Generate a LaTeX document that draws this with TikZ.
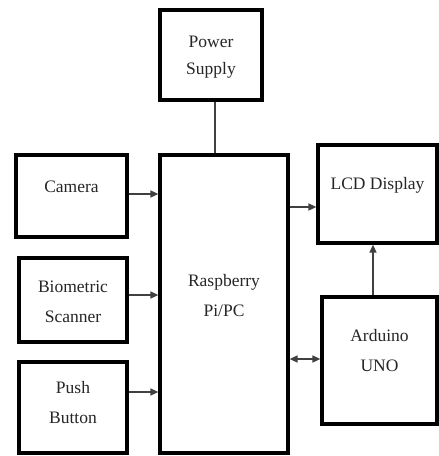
\documentclass[tikz,border=0pt]{standalone}
\usepackage{fontspec}
\setmainfont{Liberation Serif}
\usetikzlibrary{arrows.meta}
\begin{document}
\begin{tikzpicture}[x=1pt,y=-1pt,
  blk/.style={draw=black,line width=3.2pt,minimum width=#1,inner sep=0pt,fill=white},
  txt/.style={font=\fontsize{17.5}{30}\selectfont,text=black!85,align=center},
  conn/.style={draw=black!75,line width=1.5pt},
  arr/.style={conn,-{Triangle[length=8pt,width=7pt]}},
  barr/.style={conn,{Triangle[length=8pt,width=7pt]}-{Triangle[length=8pt,width=7pt]}}]
\useasboundingbox (0,0) rectangle (439,456);
\node[blk=102pt,minimum height=90pt] (ps) at (211,55) {};
\node[blk=111pt,minimum height=82pt] (cam) at (71.5,196) {};
\node[blk=108pt,minimum height=84pt] (bio) at (73,300) {};
\node[blk=108pt,minimum height=91pt] (push) at (73,407.5) {};
\node[blk=128pt,minimum height=298pt] (rasp) at (224,304) {};
\node[blk=119pt,minimum height=98pt] (lcd) at (377.5,194) {};
\node[blk=115pt,minimum height=127pt] (ard) at (379.5,360.5) {};
\node[txt,font=\fontsize{17.5}{27}\selectfont] (tps) at (211,57) {Power\\Supply};
\node[txt] (tcam) at (71.5,187) {Camera};
\node[txt] (tbio) at (73,302) {Biometric\\Scanner};
\node[txt] (tpush) at (73,403) {Push\\Button};
\node[txt] (trasp) at (224,296) {Raspberry\\Pi/PC};
\node[txt] (tlcd) at (377.5,185) {LCD Display};
\node[txt] (tard) at (379.5,351) {Arduino\\UNO};
\draw[conn] ([xshift=4pt]ps.south) -- ([xshift=4pt]ps.south |- rasp.north);
\draw[arr] (cam.east |- 0,194) -- (rasp.west |- 0,194);
\draw[arr] (bio.east |- 0,295) -- (rasp.west |- 0,295);
\draw[arr] (push.east |- 0,392) -- (rasp.west |- 0,392);
\draw[arr] (rasp.east |- 0,207) -- (lcd.west |- 0,207);
\draw[arr] (ard.north -| 373,0) -- (lcd.south -| 373,0);
\draw[barr] (rasp.east |- 0,359) -- (ard.west |- 0,359);
\end{tikzpicture}
\end{document}
